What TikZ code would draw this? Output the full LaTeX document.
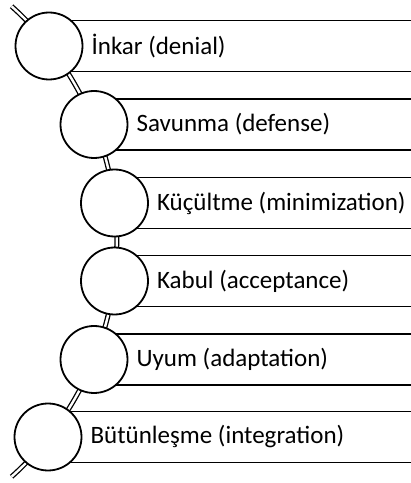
\documentclass[tikz,border=0pt]{standalone}
\usepackage{fontspec}
\setmainfont{Carlito}
\begin{document}
\begin{tikzpicture}[x=1pt,y=1pt,
  bandline/.style={line width=1.8pt, black},
  stagecircle/.style={circle, draw=black, line width=1.8pt, fill=white, minimum size=67pt, inner sep=0pt},
  stagelabel/.style={anchor=west, font=\fontsize{25}{29}\selectfont, inner sep=0pt},
  spine/.style={double=white, draw=black, line width=1.3pt, double distance=2.4pt}
]
\useasboundingbox (0,0) rectangle (411,483);
% spine arc (part of a large circle)
\coordinate (arcc) at (-198.7,241.5);
\draw[spine] ([shift={(48.2:315.5)}]arcc) arc[start angle=48.2, end angle=-48.2, radius=315.5];
% stages: name / cx / cy(image) / text
\foreach \n/\cx/\cyi/\t in {
  a/49/46/{İnkar (denial)},
  b/94/124.5/{Savunma (defense)},
  c/114.5/203/{Küçültme (minimization)},
  d/114.5/281/{Kabul (acceptance)},
  e/94/359.5/{Uyum (adaptation)},
  f/48/437/{Bütünleşme (integration)}}{
  \pgfmathsetmacro{\cy}{483-\cyi}
  \draw[bandline] (\cx,\cy+25.5) -- (412,\cy+25.5);
  \draw[bandline] (\cx,\cy-25.5) -- (412,\cy-25.5);
  \node[stagecircle] (c\n) at (\cx,\cy) {};
  \node[stagelabel] (t\n) at ([xshift=8pt]c\n.east) {\t};
}
\end{tikzpicture}
\end{document}
